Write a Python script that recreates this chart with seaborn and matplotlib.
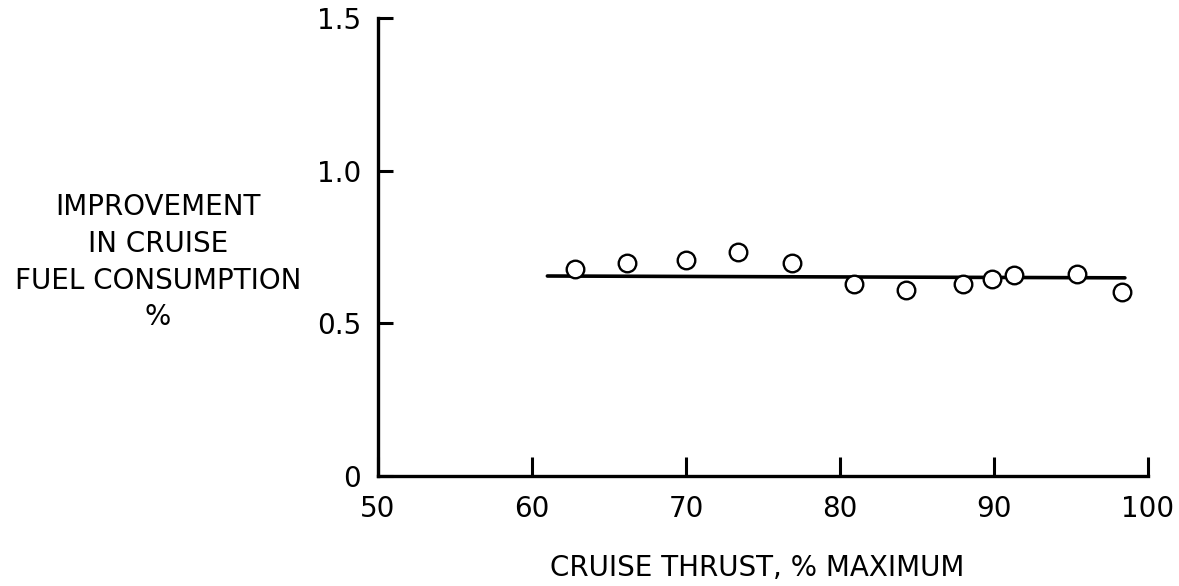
import numpy as np
import pandas as pd
import seaborn as sns
import matplotlib
matplotlib.use("Agg")
import matplotlib.pyplot as plt

thrust = [62.8, 66.2, 70.0, 73.4, 76.9, 80.9, 84.3, 88.0, 89.9, 91.3, 95.4, 98.3]
improvement = [0.677, 0.696, 0.708, 0.735, 0.699, 0.630, 0.608, 0.629, 0.646, 0.658, 0.663, 0.603]

# faired line through the points
fit_x = [61.0, 98.5]
fit_y = [0.655, 0.649]

x_ticks = [50, 60, 70, 80, 90, 100]
y_ticks = [0, 0.5, 1.0, 1.5]
y_ticklabels = ["0", "0.5", "1.0", "1.5"]

sns.set_theme(style="ticks")
plt.rcParams["font.family"] = ["DejaVu Sans"]
plt.rcParams["text.color"] = "black"
plt.rcParams["axes.labelcolor"] = "black"

df = pd.DataFrame({"thrust": thrust, "improvement": improvement})
fit = pd.DataFrame({"thrust": fit_x, "improvement": fit_y})

fig = plt.figure(figsize=(11.79, 5.86), dpi=100)
ax = fig.add_axes([0.3206, 0.1877, 0.6531, 0.7816])

sns.lineplot(data=fit, x="thrust", y="improvement", color="black", linewidth=2.6, ax=ax)
sns.scatterplot(data=df, x="thrust", y="improvement", ax=ax, s=160,
                facecolor="white", edgecolor="black", linewidth=1.7, zorder=3)

ax.set_xlim(50, 100)
ax.set_ylim(0, 1.5)
ax.set_xticks(x_ticks)
ax.set_yticks(y_ticks)
ax.set_yticklabels(y_ticklabels)

sns.despine(ax=ax)
for s in ["left", "bottom"]:
    ax.spines[s].set_linewidth(2.4)
    ax.spines[s].set_color("black")
ax.tick_params(axis="both", direction="in", width=2.2, labelsize=20, colors="black")
ax.tick_params(axis="x", length=14, pad=14)
ax.tick_params(axis="y", length=11, pad=12)

ax.set_xlabel("CRUISE THRUST, % MAXIMUM", fontsize=20, va="center")
ax.xaxis.set_label_coords(0.492, -0.2)
ax.set_ylabel("IMPROVEMENT\nIN CRUISE\nFUEL CONSUMPTION\n%", fontsize=20,
              rotation=0, ha="center", va="center", multialignment="center",
              linespacing=1.4)
ax.yaxis.set_label_coords(-0.2857, 0.467)

fig.savefig("out.png", dpi=100, facecolor="white")
